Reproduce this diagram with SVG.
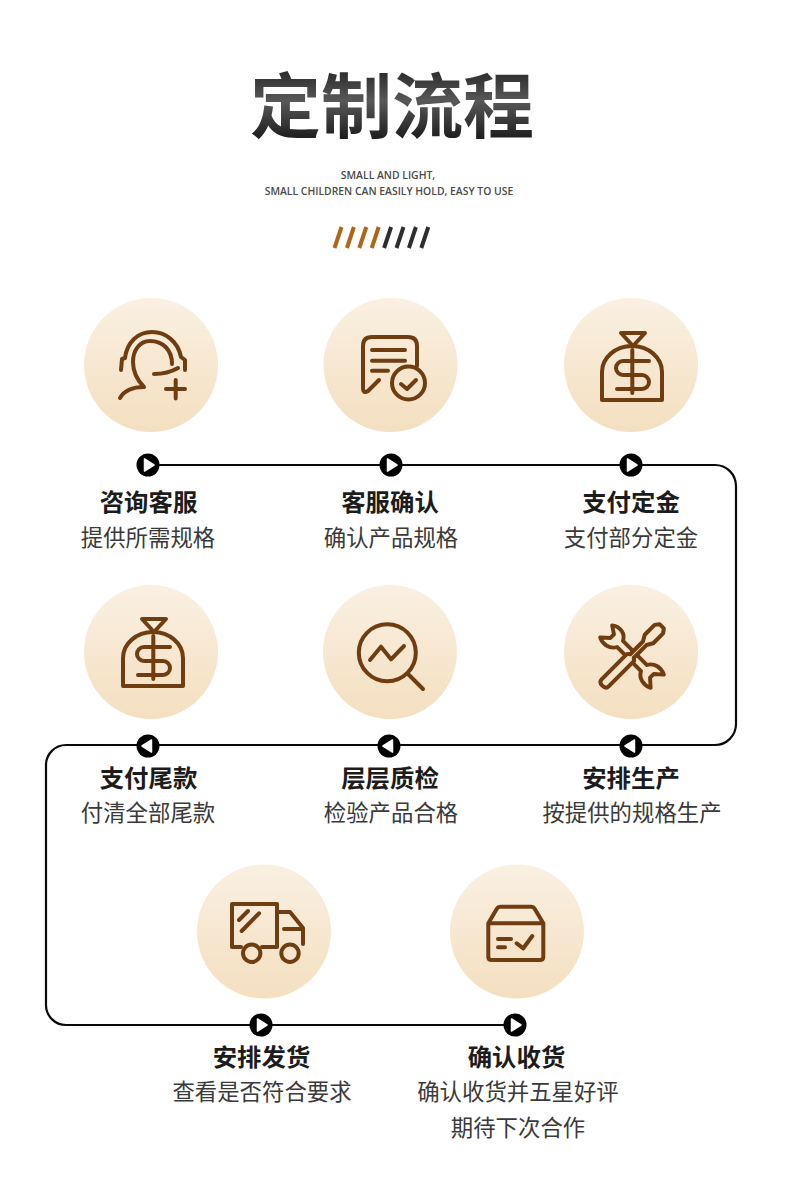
<svg xmlns="http://www.w3.org/2000/svg" width="790" height="1196" viewBox="0 0 790 1196">
<style>
.cjk{font-family:"Noto Sans CJK SC","Noto Sans CJK JP",sans-serif;text-anchor:middle}
.h{font-size:24.4px;font-weight:700;fill:#1c1c1c}
.s{font-size:22.4px;font-weight:400;fill:#3a3a3a}
.en{font-family:"Open Sans","Noto Sans",sans-serif;font-size:10.4px;font-weight:600;fill:#4a4a4a;text-anchor:middle}
.c{fill:url(#cg)}
.i{fill:none;stroke:#6f3d10;stroke-width:4;stroke-linecap:round;stroke-linejoin:round}
.line{fill:none;stroke:#0a0a0a;stroke-width:2.2}
.o{stroke:#b0661a;stroke-width:4}
.d{stroke:#2e2e2e;stroke-width:4}
</style>
<defs>
<linearGradient id="cg" x1="0" y1="0" x2="0" y2="1"><stop offset="0" stop-color="#faf0e2"/><stop offset="1" stop-color="#f4dfc0"/></linearGradient>
<linearGradient id="tg" x1="0" y1="0" x2="0" y2="1"><stop offset="0" stop-color="#0c0c0c"/><stop offset=".5" stop-color="#585858"/><stop offset="1" stop-color="#080808"/></linearGradient>
<g id="r"><circle r="11.5" fill="#000"/><path d="M-3.500,-6L6,0L-3.500,6Z" fill="#fff" stroke="#fff" stroke-width="1.500" stroke-linejoin="round"/></g>
<g id="l"><circle r="11.500" fill="#000"/><path d="M3.500,-6L-6,0L3.500,6Z" fill="#fff" stroke="#fff" stroke-width="1.500" stroke-linejoin="round"/></g>
<g id="bag"><path class="i" d="M602,400V372A30,26 0 0 1 662,372V400Z"/><path class="i" d="M621,333H645L633,346Z"/><path class="i" d="M649,361H623A7,7 0 0 0 623,375H642A7,7 0 0 1 642,389H617M632.300,350V393"/></g>
</defs>
<rect width="790" height="1196" fill="#fff"/>
<g id="header">
<text class="cjk" x="392" y="132" style="font-size:71px;font-weight:700;fill:url(#tg)">定制流程</text>
<text class="en" x="388" y="179">SMALL AND LIGHT,</text>
<text class="en" x="389" y="195">SMALL CHILDREN CAN EASILY HOLD, EASY TO USE</text>
<path class="o" d="M341.500,227L334.500,248M353.900,227L346.900,248M366.300,227L359.300,248M378.700,227L371.700,248"/>
<path class="d" d="M391.100,227L384.100,248M403.500,227L396.500,248M415.900,227L408.900,248M428.300,227L421.300,248"/>
</g>
<g id="connectors">
<path class="line" d="M148,465H715A21,21 0 0 1 736,486V724A21,21 0 0 1 715,745H66A20,20 0 0 0 46,765V1005A20,20 0 0 0 66,1025H515"/>
<use href="#r" x="148" y="465"/><use href="#r" x="391" y="465"/><use href="#r" x="631" y="465"/>
<use href="#l" x="148" y="746"/><use href="#l" x="389" y="746"/><use href="#l" x="631" y="746"/>
<use href="#r" x="261" y="1025"/><use href="#r" x="515" y="1025"/>
</g>
<g id="n1"><circle class="c" cx="151" cy="365" r="67"/>
<path class="i" d="M121,370L122,359L125,358C127,342 138,332 152,332C166,332 178,342 181,357L185,360V370"/>
<path class="i" d="M172,364C172,350 163,341 150,341C139,341 133,351 133,362C133,372 137,380 144,387C133,387 124,391 120,398"/>
<path class="i" d="M154,374C163,374 171,372 178,368M175.700,380V398.500M166,389H185"/>
<text class="cjk h" x="148.500" y="511">咨询客服</text><text class="cjk s" x="148" y="546">提供所需规格</text></g>
<g id="n2"><circle class="c" cx="390.500" cy="365" r="67"/>
<path class="i" d="M379,380L368,391Q363,394 363,388V346Q363,337 372,337H408Q417,337 417,346V366"/>
<path class="i" d="M372,350H405M372,360.700H405M372,370.700H388"/>
<circle class="i" cx="408.500" cy="383" r="16.500"/><path class="i" d="M401,384L407,389L416,380"/>
<text class="cjk h" x="390" y="511">客服确认</text><text class="cjk s" x="391" y="546">确认产品规格</text></g>
<g id="n3"><circle class="c" cx="631" cy="365" r="67"/><use href="#bag"/>
<text class="cjk h" x="631" y="511">支付定金</text><text class="cjk s" x="631" y="546">支付部分定金</text></g>
<g id="n4"><circle class="c" cx="151" cy="652" r="67"/><use href="#bag" x="-479" y="286"/>
<text class="cjk h" x="148.500" y="787">支付尾款</text><text class="cjk s" x="148" y="821">付清全部尾款</text></g>
<g id="n5"><circle class="c" cx="390" cy="652" r="67"/>
<circle class="i" cx="387.300" cy="652.700" r="28.500"/><path class="i" d="M408,674L423,689M370,660L381,646.700L391,659.300L404,646"/>
<text class="cjk h" x="390" y="787">层层质检</text><text class="cjk s" x="391" y="821">检验产品合格</text></g>
<g id="n6"><circle class="c" cx="631" cy="652" r="67"/>
<g transform="translate(632,656) rotate(-45) scale(.85)"><path class="i" style="stroke-width:4.600" d="M-5,-20C-13,-24 -15,-34 -11,-42L-3,-33H3L9,-42C15,-34 13,-24 5,-20V20C13,24 15,34 11,42L3,33H-3L-11,42C-15,34 -13,24 -5,20Z"/></g>
<g transform="translate(632,656) rotate(45)"><path class="i" style="fill:#f8e7cd" d="M-5,38Q-5,42 0,42Q5,42 5,38V2L2.500,0V-18L6,-24V-38L3,-42H-3L-6,-38V-24L-2.500,-18V0L-5,2Z"/></g>
<text class="cjk h" x="631" y="787">安排生产</text><text class="cjk s" x="632" y="821">按提供的规格生产</text></g>
<g id="n7"><circle class="c" cx="264" cy="931.500" r="67"/>
<path class="i" d="M241,947H232V904H277V947H262M277,912H290L303,928V944M284,929H301M239,920L248,911M241.700,931L259,913.300"/>
<circle class="i" cx="251.700" cy="953.300" r="8.700"/><circle class="i" cx="290" cy="953.300" r="8.700"/>
<text class="cjk h" x="261.500" y="1066">安排发货</text><text class="cjk s" x="262" y="1100">查看是否符合要求</text></g>
<g id="n8"><circle class="c" cx="517" cy="931.500" r="67"/>
<path class="i" d="M500,906.700H531.500Q533.500,906.700 534.500,908.500L543.300,923.300V957Q543.300,960 540,960H491.500Q488.300,960 488.300,957V923.300L497,908.500Q498,906.700 500,906.700ZM488.300,923.300H543.300M498,939H511M498,947.300H505M516.700,943.300L523.300,948.300L532.300,936"/>
<text class="cjk h" x="516.500" y="1066">确认收货</text><text class="cjk s" x="518" y="1100">确认收货并五星好评</text><text class="cjk s" x="518" y="1136">期待下次合作</text></g>
</svg>
